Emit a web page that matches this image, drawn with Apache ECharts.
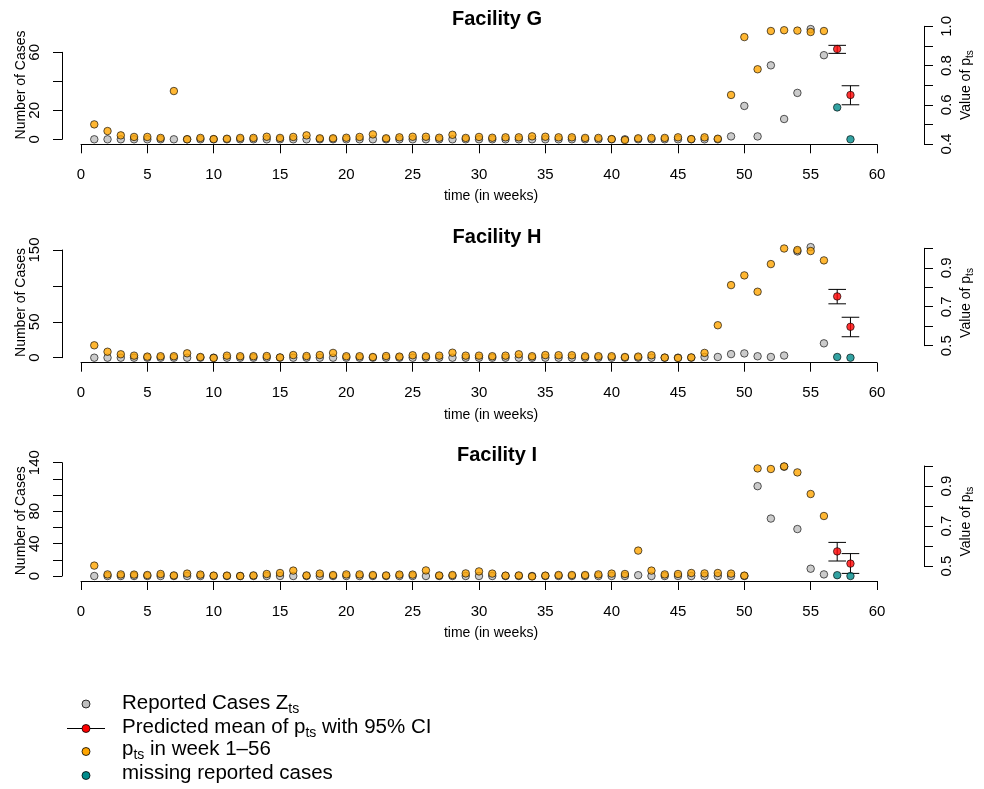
<!DOCTYPE html>
<html><head><meta charset="utf-8">
<script src="https://cdn.jsdelivr.net/npm/echarts@6/dist/echarts.min.js"></script>
<style>html,body{margin:0;padding:0;background:#fff}#c{width:984px;height:789px}</style>
</head><body><div id="c"></div>
<script>
// ---------------- data ----------------
const weeksObs = [1,2,3,4,5,6,7,8,9,10,11,12,13,14,15,16,17,18,19,20,21,22,23,24,25,26,27,28,29,30,31,32,33,34,35,36,37,38,39,40,41,42,43,44,45,46,47,48,49,50,51,52,53,54,55,56];
const weeksPred = [57, 58];
const facilityTitles = ['Facility G', 'Facility H', 'Facility I'];
const xTicks = [0,5,10,15,20,25,30,35,40,45,50,55,60];

// Facility G
const casesG = [0,0,0,0,0,0,0,0,0,0,0,0,0,0,0,0,0,0,0,0,0,0,0,0,0,0,0,0,0,0,0,0,0,0,0,0,0,0,0,0,0,0,0,0,0,0,0,0,2,23,2,51,14,32,76,58];
const pG = [0.500,0.466,0.444,0.436,0.436,0.431,0.670,0.424,0.431,0.425,0.427,0.431,0.431,0.437,0.431,0.436,0.444,0.429,0.429,0.432,0.436,0.449,0.429,0.434,0.437,0.437,0.432,0.447,0.431,0.436,0.432,0.434,0.434,0.439,0.437,0.434,0.434,0.431,0.431,0.425,0.420,0.429,0.431,0.431,0.434,0.425,0.434,0.427,0.650,0.945,0.781,0.976,0.980,0.978,0.971,0.976];
const predMeanG = [0.884, 0.650];
const predLowG = [0.862, 0.600];
const predHighG = [0.903, 0.697];
const missingG = [22, 0];
const leftTicksG = [0, 20, 40, 60];
const leftLabelsG = [0, 20, 60];
const rightTicksG = [0.4, 0.5, 0.6, 0.7, 0.8, 0.9, 1.0];
const rightLabelsG = ['0.4', '0.6', '0.8', '1.0'];

// Facility H
const casesH = [0,0,0,0,0,0,0,0,0,0,0,0,0,0,0,0,0,0,0,0,0,0,0,0,0,0,0,0,0,0,0,0,0,0,0,0,0,0,0,0,0,0,0,0,0,0,1,1,5,6,2,1,3,148,154,20];
const pH = [0.502,0.469,0.456,0.449,0.444,0.446,0.446,0.461,0.442,0.437,0.449,0.446,0.446,0.447,0.440,0.452,0.447,0.452,0.463,0.446,0.446,0.442,0.447,0.444,0.451,0.446,0.449,0.464,0.449,0.449,0.446,0.449,0.456,0.446,0.452,0.451,0.451,0.446,0.446,0.446,0.442,0.444,0.451,0.439,0.437,0.440,0.463,0.605,0.811,0.861,0.777,0.919,0.999,0.991,0.986,0.938];
const predMeanH = [0.753, 0.597];
const predLowH = [0.715, 0.546];
const predHighH = [0.789, 0.646];
const missingH = [1, 0];
const leftTicksH = [0, 50, 100, 150];
const leftLabelsH = [0, 50, 150];
const rightTicksH = [0.5, 0.6, 0.7, 0.8, 0.9, 1.0];
const rightLabelsH = ['0.5', '0.7', '0.9'];

// Facility I
const casesI = [0,0,0,0,0,0,0,0,0,0,0,0,0,0,0,0,0,0,0,0,0,0,0,0,0,0,0,0,0,0,0,0,0,0,0,0,0,0,0,0,0,1,0,0,0,0,0,0,0,0,111,71,135,58,9,2];
const pI = [0.502,0.458,0.458,0.457,0.455,0.460,0.453,0.462,0.457,0.452,0.452,0.450,0.453,0.460,0.465,0.477,0.453,0.462,0.455,0.458,0.458,0.455,0.453,0.457,0.457,0.478,0.453,0.455,0.463,0.473,0.462,0.452,0.453,0.448,0.452,0.455,0.455,0.455,0.458,0.462,0.460,0.577,0.477,0.458,0.460,0.465,0.463,0.465,0.462,0.452,0.988,0.985,0.998,0.968,0.860,0.750];
const predMeanI = [0.573, 0.512];
const predLowI = [0.525, 0.463];
const predHighI = [0.618, 0.562];
const missingI = [1, 0];
const leftTicksI = [0, 20, 40, 60, 80, 100, 120, 140];
const leftLabelsI = [0, 40, 80, 140];
const rightTicksI = [0.5, 0.6, 0.7, 0.8, 0.9, 1.0];
const rightLabelsI = ['0.5', '0.7', '0.9'];

const legendLabels = ['{a|Reported Cases Z}{s|ts}', '{a|Predicted mean of p}{s|ts}{a| with 95% CI}', '{a|p}{s|ts}{a| in week 1\u201356}', '{a|missing reported cases}'];

// ---------------- styling / layout ----------------
const FONT = '"Liberation Sans", Arial, Helvetica, sans-serif';
const COL = { gray: '#BEBEBE', orange: '#FFA500', red: '#FF0000', teal: '#008B8B' };
const SYM = 7.5;
const X0 = 81, X60 = 877, LEFT_AXIS = 62, RIGHT_AXIS = 924;

const panels = [
  { cases: casesG, p: pG, mean: predMeanG, lo: predLowG, hi: predHighG, miss: missingG,
    lt: leftTicksG, ll: leftLabelsG, rt: rightTicksG, rl: rightLabelsG,
    aTop: 52.3, aBot: 139.3, bTop: 26.3, bBot: 144, titleTop: 4, lShift: -10.8, rShift: 0 },
  { cases: casesH, p: pH, mean: predMeanH, lo: predLowH, hi: predHighH, miss: missingH,
    lt: leftTicksH, ll: leftLabelsH, rt: rightTicksH, rl: rightLabelsH,
    aTop: 250, aBot: 357.7, bTop: 248.3, bBot: 345.7, titleTop: 222, lShift: -1.35, rShift: 6 },
  { cases: casesI, p: pI, mean: predMeanI, lo: predLowI, hi: predHighI, miss: missingI,
    lt: leftTicksI, ll: leftLabelsI, rt: rightTicksI, rl: rightLabelsI,
    aTop: 462.7, aBot: 576, bTop: 466, bBot: 566, titleTop: 440, lShift: 1.45, rShift: 5.7 }
];

function padShift(d) { // rotated 90deg text: positive d => move down
  return d >= 0 ? [0, 2 * d, 0, 0] : [0, 0, 0, -2 * d];
}

const grid = [], xAxis = [], yAxis = [], series = [], title = [];
const lineStyle = { color: '#000', width: 1 };
const itemBase = { borderColor: '#000', borderWidth: 0.8 };

panels.forEach((pn, k) => {
  title.push({ text: facilityTitles[k], left: 492, top: pn.titleTop, textAlign: 'center',
    textStyle: { fontFamily: FONT, fontSize: 20, fontWeight: 'bold', color: '#000' } });
  grid.push({ left: X0, width: X60 - X0, top: pn.aTop, height: pn.aBot - pn.aTop, outerBoundsMode: 'none' });
  grid.push({ left: X0, width: X60 - X0, top: pn.bTop, height: pn.bBot - pn.bTop, outerBoundsMode: 'none' });
  xAxis.push({ type: 'value', gridIndex: 2 * k, min: xTicks[0], max: xTicks[xTicks.length - 1], interval: xTicks[1] - xTicks[0],
    offset: 5, axisLine: { onZero: false, lineStyle }, axisTick: { length: 9, lineStyle },
    splitLine: { show: false },
    axisLabel: { margin: 23, fontFamily: FONT, fontSize: 15, color: '#000' },
    name: 'time (in weeks)', nameLocation: 'middle', nameGap: 45,
    nameTextStyle: { fontFamily: FONT, fontSize: 14, color: '#000', padding: [0, 0, 0, 24] } });
  xAxis.push({ type: 'value', gridIndex: 2 * k + 1, min: xTicks[0], max: xTicks[xTicks.length - 1], show: false });
  const lt = pn.lt, ll = pn.ll, rl = pn.rl;
  yAxis.push({ type: 'value', gridIndex: 2 * k, position: 'left', offset: X0 - LEFT_AXIS,
    min: lt[0], max: lt[lt.length - 1], interval: lt[1] - lt[0],
    axisLine: { show: true, onZero: false, lineStyle }, axisTick: { show: true, length: 9, lineStyle },
    splitLine: { show: false },
    axisLabel: { rotate: 90, margin: 20, fontFamily: FONT, fontSize: 15, color: '#000',
      formatter: v => ll.indexOf(Math.round(v)) >= 0 ? String(Math.round(v)) : '' },
    name: 'Number of Cases', nameLocation: 'middle', nameRotate: 90, nameGap: 34, nameMoveOverlap: false,
    nameTextStyle: { fontFamily: FONT, fontSize: 14, color: '#000', padding: padShift(pn.lShift) } });
  const rt = pn.rt;
  yAxis.push({ type: 'value', gridIndex: 2 * k + 1, position: 'right', offset: RIGHT_AXIS - X60,
    min: rt[0], max: rt[rt.length - 1], interval: 0.1,
    axisLine: { show: true, onZero: false, lineStyle }, axisTick: { show: true, length: 9, lineStyle },
    splitLine: { show: false },
    axisLabel: { rotate: 90, margin: 15, fontFamily: FONT, fontSize: 15, color: '#000',
      formatter: v => rl.indexOf(v.toFixed(1)) >= 0 ? v.toFixed(1) : '' },
    name: 'Value of p{s|ts}', nameLocation: 'middle', nameRotate: 90, nameGap: 33, nameMoveOverlap: false,
    nameTextStyle: { fontFamily: FONT, fontSize: 14, color: '#000', lineHeight: 18, padding: padShift(pn.rShift),
      rich: { s: { fontFamily: FONT, fontSize: 10, lineHeight: 10, verticalAlign: 'bottom', color: '#000' } } } });

  series.push({ type: 'scatter', name: 'Reported Cases', xAxisIndex: 2 * k, yAxisIndex: 2 * k, clip: false, z: 2,
    symbolSize: SYM, itemStyle: Object.assign({ color: COL.gray }, itemBase),
    data: weeksObs.map((w, i) => [w, pn.cases[i]]) });
  series.push({ type: 'scatter', name: 'p_ts', xAxisIndex: 2 * k + 1, yAxisIndex: 2 * k + 1, clip: false, z: 3,
    symbolSize: SYM, itemStyle: Object.assign({ color: COL.orange }, itemBase),
    data: weeksObs.map((w, i) => [w, pn.p[i]]) });
  series.push({ type: 'custom', name: 'CI', xAxisIndex: 2 * k + 1, yAxisIndex: 2 * k + 1, z: 4,
    data: weeksPred.map((w, i) => [w, pn.lo[i], pn.hi[i]]),
    renderItem: function (params, api) {
      const x = api.value(0);
      const a = api.coord([x, api.value(1)]), b = api.coord([x, api.value(2)]);
      const hw = 8.8, st = { stroke: '#000', lineWidth: 1 };
      return { type: 'group', children: [
        { type: 'line', shape: { x1: a[0], y1: a[1], x2: b[0], y2: b[1] }, style: st },
        { type: 'line', shape: { x1: a[0] - hw, y1: a[1], x2: a[0] + hw, y2: a[1] }, style: st },
        { type: 'line', shape: { x1: b[0] - hw, y1: b[1], x2: b[0] + hw, y2: b[1] }, style: st }
      ] };
    } });
  series.push({ type: 'scatter', name: 'Predicted mean', xAxisIndex: 2 * k + 1, yAxisIndex: 2 * k + 1, clip: false, z: 5,
    symbolSize: SYM, itemStyle: Object.assign({ color: COL.red }, itemBase),
    data: weeksPred.map((w, i) => [w, pn.mean[i]]) });
  series.push({ type: 'scatter', name: 'missing', xAxisIndex: 2 * k, yAxisIndex: 2 * k, clip: false, z: 5,
    symbolSize: SYM, itemStyle: Object.assign({ color: COL.teal }, itemBase),
    data: weeksPred.map((w, i) => [w, pn.miss[i]]) });
});

// legend (drawn as graphic elements)
const legendColors = [COL.gray, COL.red, COL.orange, COL.teal];
const legSymY = [704, 728.5, 751.5, 775.5];
const legTextY = [703.6, 727, 749.6, 773];
const rich = {
  a: { fontFamily: FONT, fontSize: 20.5, lineHeight: 26, fill: '#000' },
  s: { fontFamily: FONT, fontSize: 14, lineHeight: 14, verticalAlign: 'bottom', fill: '#000' }
};
const graphic = [{ type: 'line', shape: { x1: 67, y1: legSymY[1], x2: 105, y2: legSymY[1] }, style: { stroke: '#000', lineWidth: 1 }, z: 10 }];
legendLabels.forEach((t, i) => {
  graphic.push({ type: 'circle', shape: { cx: 86, cy: legSymY[i], r: 4 }, style: { fill: legendColors[i], stroke: '#000', lineWidth: 0.8 }, z: 11 });
  graphic.push({ type: 'text', x: 122, y: legTextY[i], style: { text: t, rich: rich, align: 'left', verticalAlign: 'middle', fill: '#000', fontFamily: FONT, fontSize: 20.5 }, z: 11 });
});

const chart = echarts.init(document.getElementById('c'));
chart.setOption({
  animation: false,
  backgroundColor: '#fff',
  textStyle: { fontFamily: FONT },
  title, grid, xAxis, yAxis, series, graphic
});
</script>
</body></html>
